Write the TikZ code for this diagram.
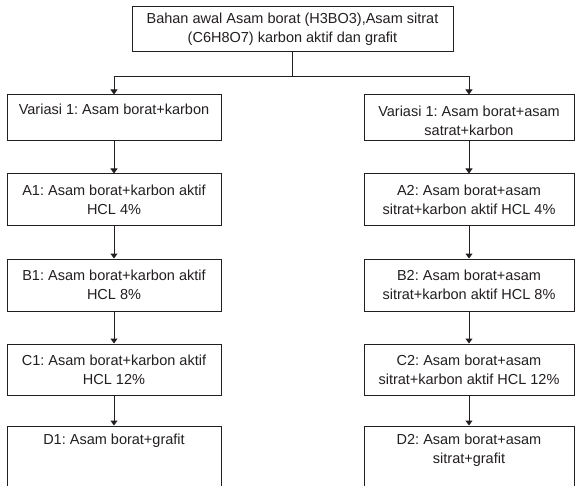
\documentclass[tikz,border=0pt]{standalone}
\usepackage{fontspec}
\setmainfont{Liberation Sans}
\usetikzlibrary{arrows.meta}
\definecolor{ink}{RGB}{35,31,32}
\newcommand{\lowertext}{\rule{0pt}{17pt}}
\begin{document}
\begin{tikzpicture}[x=1pt,y=-1pt,
  box/.style={draw=ink, line width=1pt, align=center, inner sep=0pt,
    font=\fontsize{14.5}{19}\selectfont\frenchspacing, text=ink},
  lbox/.style={box, minimum width=214pt},
  rbox/.style={box, minimum width=210pt},
  conn/.style={draw=ink, line width=1pt},
  arr/.style={conn, -{Triangle[length=5pt,width=7pt]}}]
\useasboundingbox (0,0) rectangle (575,486);
\clip (0,0) rectangle (575,486);
\fill[white] (0,0) rectangle (575,486);

\node[box, minimum width=321pt, minimum height=45pt] (top) at (292.5,29.5)
  {Bahan awal Asam borat (H3BO3),Asam sitrat\\(C6H8O7) karbon aktif dan grafit};

\node[lbox, minimum height=46pt] (v1) at (114,118) {\lowertext Variasi 1: Asam borat+karbon\\\strut};
\node[rbox, minimum height=46pt] (v2) at (469,118) {\lowertext Variasi 1: Asam borat+asam\\satrat+karbon};

\node[lbox, minimum height=52pt] (a1) at (114,200) {A1: Asam borat+karbon aktif\\HCL 4\%};
\node[rbox, minimum height=52pt] (a2) at (469,200) {A2: Asam borat+asam\\sitrat+karbon aktif HCL 4\%};

\node[lbox, minimum height=52pt] (b1) at (114,285) {B1: Asam borat+karbon aktif\\HCL 8\%};
\node[rbox, minimum height=52pt] (b2) at (469,285) {B2: Asam borat+asam\\sitrat+karbon aktif HCL 8\%};

\node[lbox, minimum height=51pt] (c1) at (114,369.5) {C1: Asam borat+karbon aktif\\HCL 12\%};
\node[rbox, minimum height=51pt] (c2) at (469,369.5) {C2: Asam borat+asam\\sitrat+karbon aktif HCL 12\%};

\node[lbox, minimum height=70pt] (d1) at (114,461) {D1: Asam borat+grafit\\\strut\\\strut};
\node[rbox, minimum height=70pt] (d2) at (469,461) {D2: Asam borat+asam\\sitrat+grafit\\\strut};

\coordinate (split) at (292.5,77);
\draw[conn] (top) -- (split);
\draw[arr] (split) -| (v1);
\draw[arr] (split) -| (v2);

\draw[arr] (v1) -- (a1);
\draw[arr] (a1) -- (b1);
\draw[arr] (b1) -- (c1);
\draw[arr] (c1) -- (d1);
\draw[arr] (v2) -- (a2);
\draw[arr] (a2) -- (b2);
\draw[arr] (b2) -- (c2);
\draw[arr] (c2) -- (d2);
\end{tikzpicture}
\end{document}
